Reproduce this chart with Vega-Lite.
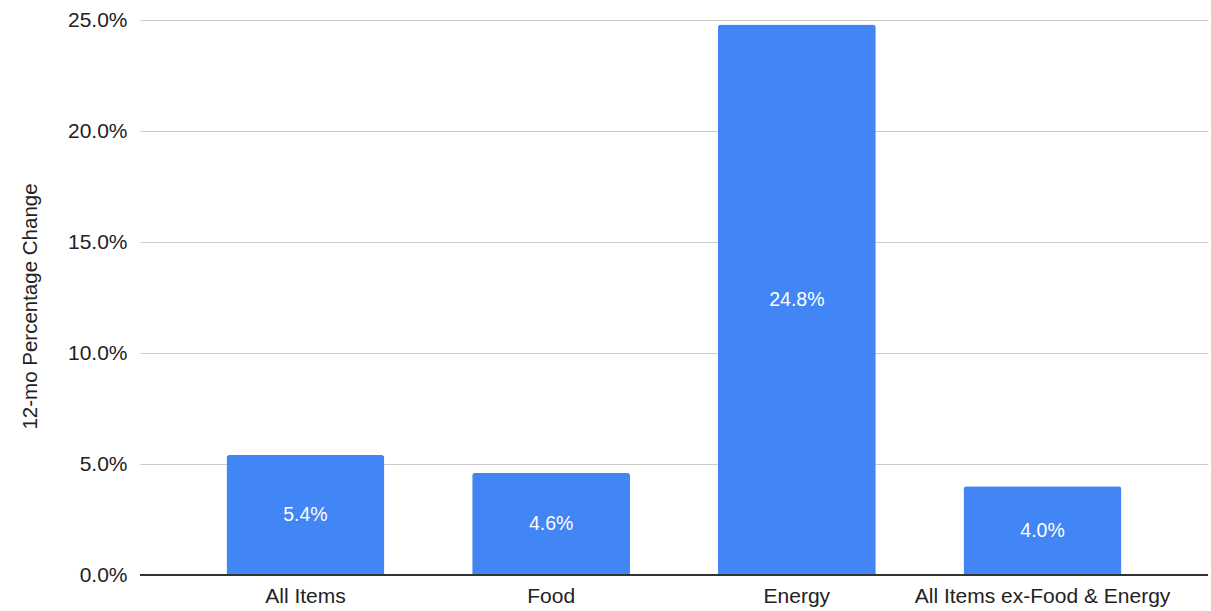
{
  "$schema": "https://vega.github.io/schema/vega-lite/v6.json",
  "width": 1068,
  "height": 555,
  "autosize": {"type": "none"},
  "padding": {"left": 140, "top": 20, "right": 3, "bottom": 36},
  "background": "white",
  "config": {
    "view": {"stroke": null},
    "font": "Liberation Sans"
  },
  "data": {
    "values": [
      {"category": "All Items", "change": 0.054},
      {"category": "Food", "change": 0.046},
      {"category": "Energy", "change": 0.248},
      {"category": "All Items ex-Food & Energy", "change": 0.040}
    ]
  },
  "encoding": {
    "x": {
      "field": "category",
      "type": "nominal",
      "sort": null,
      "scale": {"paddingInner": 0.357, "paddingOuter": 0.352},
      "axis": {
        "title": null,
        "labelAngle": 0,
        "labelFontSize": 21,
        "labelLimit": 0,
        "labelColor": "#222222",
        "labelPadding": 10,
        "ticks": false,
        "domain": false,
        "grid": false
      }
    }
  },
  "layer": [
    {
      "mark": {"type": "bar", "color": "#4285f4", "cornerRadiusTopLeft": 3, "cornerRadiusTopRight": 3},
      "encoding": {
        "y": {
          "field": "change",
          "type": "quantitative",
          "scale": {"domain": [0, 0.25], "nice": false},
          "axis": {
            "title": "12-mo Percentage Change",
            "titleFontSize": 20.5,
            "titleFontWeight": "normal",
            "titleColor": "#222222",
            "titleX": -110,
            "titleY": 286,
            "titleAngle": -90,
            "titleAnchor": "middle",
            "titleBaseline": "middle",
            "format": ".1%",
            "values": [0, 0.05, 0.1, 0.15, 0.2, 0.25],
            "labelFontSize": 21,
            "labelColor": "#222222",
            "labelPadding": 13,
            "ticks": false,
            "domain": false,
            "gridColor": "#cccccc",
            "gridWidth": 1
          }
        }
      }
    },
    {
      "mark": {"type": "rule", "color": "#333333", "strokeWidth": 1.5},
      "encoding": {
        "y": {"datum": 0, "type": "quantitative"},
        "x": {"value": 0},
        "x2": {"value": 1068}
      }
    },
    {
      "transform": [{"calculate": "datum.change / 2", "as": "mid"}],
      "mark": {"type": "text", "color": "white", "fontSize": 19.5, "baseline": "middle", "align": "center"},
      "encoding": {
        "y": {"field": "mid", "type": "quantitative"},
        "text": {"field": "change", "type": "quantitative", "format": ".1%"}
      }
    }
  ]
}
